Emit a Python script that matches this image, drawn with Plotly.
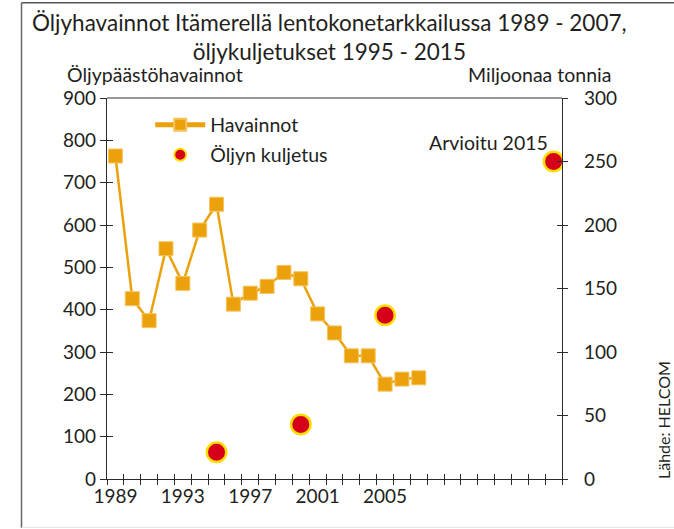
import plotly.graph_objects as go

# ---- data ----
years = list(range(1989, 2008))
havainnot = [763, 426, 374, 544, 462, 588, 649, 413, 439, 455, 488, 473,
             390, 345, 291, 291, 224, 236, 239]
kuljetus_years = [1995, 2000, 2005, 2015]
kuljetus = [21, 43, 129, 250]
x_tick_labels = [1989, 1993, 1997, 2001, 2005]
x_minor_ticks = [y + 0.5 for y in range(1988, 2016)]

FONT = "Lato"
TXT = "#231f20"
ORANGE = "#eba10c"
AXC = "#2b2b2b"

fig = go.Figure()

fig.add_trace(go.Scatter(
    x=years, y=havainnot, name="Havainnot", mode="lines+markers",
    line=dict(color=ORANGE, width=2.5),
    marker=dict(symbol="square", size=14, color=ORANGE,
                line=dict(color="#f6c35c", width=1)),
    xaxis="x", yaxis="y", legend="legend", hoverinfo="x+y"))

fig.add_trace(go.Scatter(
    x=kuljetus_years, y=kuljetus, name="Öljyn kuljetus", mode="markers",
    marker=dict(symbol="circle", size=19.5, color="#d7001b",
                line=dict(color="#ffdd00", width=2.5)),
    xaxis="x", yaxis="y2", legend="legend2", hoverinfo="x+y"))

# invisible helpers so the tick-only overlay axes are drawn
for xa, ya in [("x3", "y"), ("x4", "y"), ("x", "y3"), ("x", "y4")]:
    fig.add_trace(go.Scatter(x=[None], y=[None], xaxis=xa, yaxis=ya,
                             showlegend=False, hoverinfo="skip"))

XR = [1988.5, 2015.5]
common_x = dict(range=XR, fixedrange=True, showgrid=False, zeroline=False)

fig.update_layout(
    width=674, height=529,
    margin=dict(l=107, r=112, t=98, b=50),
    paper_bgcolor="white", plot_bgcolor="white",
    font=dict(family=FONT, size=18, color=TXT),
    xaxis=dict(**common_x, tickmode="array", tickvals=x_tick_labels,
               ticks="", showline=True, linecolor=AXC, linewidth=1.3,
               tickfont=dict(size=19, color=TXT)),
    xaxis3=dict(**common_x, overlaying="x", anchor="y", side="bottom",
                tickmode="array", tickvals=x_minor_ticks, ticks="outside",
                ticklen=5, tickwidth=1.2, tickcolor=AXC,
                showticklabels=False, showline=False),
    xaxis4=dict(**common_x, overlaying="x", anchor="y", side="bottom",
                tickmode="array", tickvals=x_minor_ticks, ticks="inside",
                ticklen=5, tickwidth=1.2, tickcolor=AXC,
                showticklabels=False, showline=False),
    yaxis=dict(range=[0, 900], dtick=100, ticks="outside", ticklen=6,
               tickwidth=1.2, tickcolor=AXC, showline=True, linecolor=AXC,
               linewidth=1.3, showgrid=False, zeroline=False,
               tickfont=dict(size=19, color=TXT), ticklabelstandoff=0),
    yaxis3=dict(range=[0, 900], dtick=100, overlaying="y", side="left",
                anchor="x", ticks="inside", ticklen=6, tickwidth=1.2,
                tickcolor=AXC, showticklabels=False, showline=False,
                showgrid=False, zeroline=False),
    yaxis2=dict(range=[0, 300], dtick=50, overlaying="y", side="right",
                anchor="x", ticks="outside", ticklen=5, tickwidth=1.2,
                tickcolor=AXC, showline=True, linecolor=AXC, linewidth=1.3,
                showgrid=False, zeroline=False,
                tickfont=dict(size=19, color=TXT), ticklabelstandoff=12),
    yaxis4=dict(range=[0, 300], dtick=50, overlaying="y", side="right",
                anchor="x", ticks="inside", ticklen=5, tickwidth=1.2,
                tickcolor=AXC, showticklabels=False, showline=False,
                showgrid=False, zeroline=False),
    legend=dict(x=0.095, y=0.929, xanchor="left", yanchor="middle",
                bgcolor="rgba(0,0,0,0)", itemwidth=50,
                font=dict(size=19.5, color=TXT), itemsizing="constant"),
    legend2=dict(x=0.095, y=0.850, xanchor="left", yanchor="middle",
                 bgcolor="rgba(0,0,0,0)", itemwidth=50,
                 font=dict(size=19.5, color=TXT), itemsizing="constant"),
    showlegend=True,
)

px = lambda v: (v - 107) / 455
py = lambda v: (479 - v) / 381

fig.add_annotation(
    text="Öljyhavainnot Itämerellä lentokonetarkkailussa 1989 - 2007,"
         "<br>öljykuljetukset 1995 - 2015",
    xref="paper", yref="paper", x=px(329), y=py(37), xanchor="center",
    yanchor="middle", showarrow=False, align="center",
    font=dict(size=22.5, color=TXT, family=FONT))

fig.add_annotation(text="Öljypäästöhavainnot", xref="paper", yref="paper",
                   x=px(65), y=py(75), xanchor="left",
                   yanchor="middle", showarrow=False,
                   font=dict(size=19.5, color=TXT, family=FONT))
fig.add_annotation(text="Miljoonaa tonnia", xref="paper", yref="paper",
                   x=px(613), y=py(75), xanchor="right",
                   yanchor="middle", showarrow=False,
                   font=dict(size=19.5, color=TXT, family=FONT))
fig.add_annotation(text="Arvioitu 2015", xref="paper", yref="paper",
                   x=px(427), y=py(142), xanchor="left",
                   yanchor="middle", showarrow=False,
                   font=dict(size=19.5, color=TXT, family=FONT))
fig.add_annotation(text="Lähde: HELCOM", xref="paper", yref="paper",
                   x=px(663), y=py(420), xanchor="center",
                   yanchor="middle", showarrow=False, textangle=-90,
                   font=dict(size=16, color=TXT, family=FONT))

# frame and top border of the plot
fig.add_shape(type="line", xref="paper", yref="paper", x0=px(21.5), x1=px(690),
              y0=py(2.7), y1=py(2.7), line=dict(color="#555", width=1.5))
fig.add_shape(type="line", xref="paper", yref="paper", x0=px(21.5), x1=px(21.5),
              y0=py(2.7), y1=py(528), line=dict(color="#666", width=1.5))
fig.add_shape(type="line", xref="paper", yref="paper", x0=px(21.5), x1=px(690),
              y0=py(527.5), y1=py(527.5), line=dict(color="#e6e6e6", width=1))
fig.add_shape(type="line", xref="paper", yref="paper", x0=0, x1=1,
              y0=1, y1=1, line=dict(color="#777", width=1.3))

fig.write_html("out.html",
               config={"displayModeBar": False},
               post_script="document.body.style.margin='0';")
